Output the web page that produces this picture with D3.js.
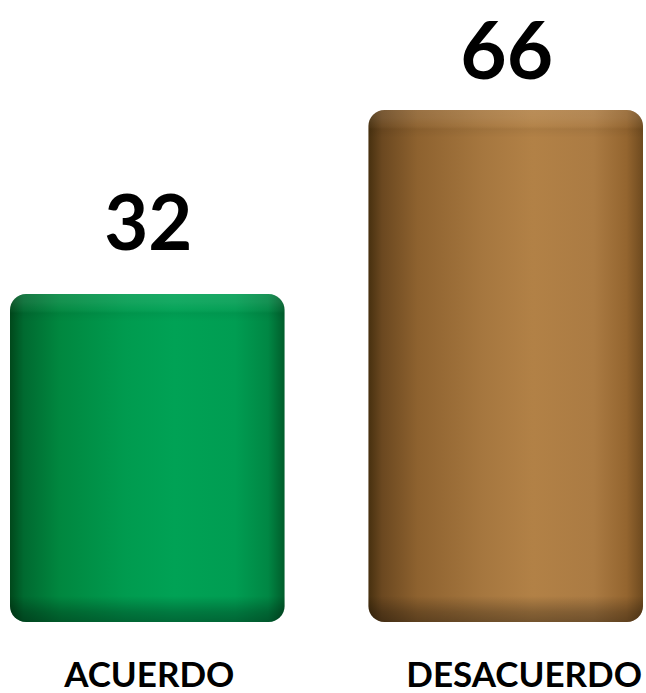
<!DOCTYPE html>
<html>
<head>
<meta charset="utf-8">
<script src="https://cdn.jsdelivr.net/npm/d3@7"></script>
<style>
  html, body { margin: 0; padding: 0; background: #fff; }
  svg { display: block; }
</style>
</head>
<body>
<script>
var width = 646,
    height = 693;

// data
var categories = ["ACUERDO", "DESACUERDO"];
var values = [32, 66];
var valueLabels = ["32", "66"];

// look of each cylinder (dark edge, body, highlight)
var palettes = [
    ["#00481b", "#006a30", "#00873f", "#009b4f", "#00a255", "#009d52", "#008744", "#005d2b"],
    ["#47300f", "#6b4820", "#8e622f", "#a6773f", "#b28146", "#ab7b43", "#94652f", "#6e4a1f"]
];
var stopOffsets = [0, 0.05, 0.18, 0.42, 0.6, 0.82, 0.94, 1];

var svg = d3.select("body")
    .append("svg")
    .attr("width", width)
    .attr("height", height);

var defs = svg.append("defs");

var x = d3.scaleBand()
    .domain(categories)
    .range([10, 643])
    .paddingInner(0.234)
    .paddingOuter(0);

var y = d3.scaleLinear()
    .domain([-28.6, 66])
    .range([622, 110]);

var radius = 16;

categories.forEach(function (c, i) {
    // side shading of the cylinder
    var g = defs.append("linearGradient")
        .attr("id", "side" + i)
        .attr("x1", "0%").attr("x2", "100%")
        .attr("y1", "0%").attr("y2", "0%");
    palettes[i].forEach(function (col, k) {
        g.append("stop").attr("offset", stopOffsets[k]).attr("stop-color", col);
    });

    // top cap and bottom shadow
    var top = y(values[i]), bottom = y.range()[0];
    var v = defs.append("linearGradient")
        .attr("id", "cap" + i)
        .attr("gradientUnits", "userSpaceOnUse")
        .attr("x1", 0).attr("x2", 0)
        .attr("y1", top).attr("y2", bottom);
    var h = bottom - top;
    [
        [0, "#fff", 0.10],
        [8 / h, "#fff", 0.08],
        [15 / h, "#fff", 0.03],
        [19 / h, "#000", 0.05],
        [28 / h, "#000", 0],
        [(h - 26) / h, "#000", 0],
        [(h - 10) / h, "#000", 0.25],
        [1, "#000", 0.35]
    ].forEach(function (s) {
        v.append("stop").attr("offset", s[0]).attr("stop-color", s[1]).attr("stop-opacity", s[2]);
    });
});

var bars = svg.append("g")
    .selectAll("g")
    .data(categories)
    .enter().append("g");

bars.append("rect")
    .attr("x", function (d) { return x(d); })
    .attr("y", function (d, i) { return y(values[i]); })
    .attr("width", x.bandwidth())
    .attr("height", function (d, i) { return y.range()[0] - y(values[i]); })
    .attr("rx", radius)
    .attr("ry", radius)
    .style("fill", function (d, i) { return "url(#side" + i + ")"; });

bars.append("rect")
    .attr("x", function (d) { return x(d); })
    .attr("y", function (d, i) { return y(values[i]); })
    .attr("width", x.bandwidth())
    .attr("height", function (d, i) { return y.range()[0] - y(values[i]); })
    .attr("rx", radius)
    .attr("ry", radius)
    .style("fill", function (d, i) { return "url(#cap" + i + ")"; });

// value labels
var valueSizes = [76, 80];
bars.append("text")
    .attr("x", function (d) { return x(d) + x.bandwidth() / 2 + 1; })
    .attr("y", function (d, i) { return y(values[i]) - (i === 0 ? 44 : 31); })
    .attr("text-anchor", "middle")
    .style("font-family", "Lato, 'Open Sans', sans-serif")
    .style("font-weight", "bold")
    .style("font-size", function (d, i) { return valueSizes[i] + "px"; })
    .style("fill", "#000")
    .text(function (d, i) { return valueLabels[i]; });

// category labels
bars.append("text")
    .attr("x", function (d, i) { return i === 0 ? x(d) + x.bandwidth() / 2 + 2 : 642; })
    .attr("y", 687)
    .attr("text-anchor", function (d, i) { return i === 0 ? "middle" : "end"; })
    .style("font-family", "Lato, 'Open Sans', sans-serif")
    .style("font-weight", "bold")
    .style("font-size", "35px")
    .style("fill", "#000")
    .text(function (d) { return d; });
</script>
</body>
</html>
